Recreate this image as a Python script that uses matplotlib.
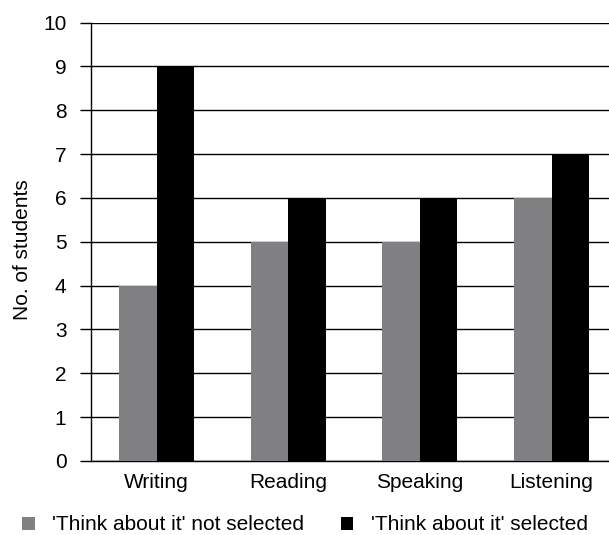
import matplotlib
matplotlib.use("Agg")
import matplotlib.pyplot as plt
from matplotlib.patches import Patch
import numpy as np

categories = ["Writing", "Reading", "Speaking", "Listening"]
not_selected = [4, 5, 5, 6]
selected = [9, 6, 6, 7]
series_names = ["'Think about it' not selected", "'Think about it' selected"]
yticks = list(range(0, 11))

plt.rcParams['font.family'] = ['Liberation Sans', 'DejaVu Sans']
FS = 15

fig = plt.figure(figsize=(6.09, 5.35), dpi=100)
ax = fig.add_axes([90.7/609, 74/535, 526.8/609, 438.5/535])

x = np.arange(len(categories))
w = 0.285
ax.bar(x - w/2, not_selected, w, color='#808083', zorder=3)
ax.bar(x + w/2, selected, w, color='#000000', zorder=3)

ax.set_xlim(-0.5, 3.5)
ax.set_ylim(0, 10)
ax.set_yticks(yticks)
ax.set_xticks(x)
ax.set_xticklabels(categories, fontsize=FS)
ax.tick_params(axis='y', length=8, width=1, pad=9.5, labelsize=FS, color='#000000')
ax.tick_params(axis='x', length=0, pad=9, labelsize=FS)
ax.yaxis.grid(True, color='#000000', linewidth=1, zorder=0)
ax.set_axisbelow(True)
for s in ['top', 'right']:
    ax.spines[s].set_visible(False)
ax.spines['left'].set_linewidth(1)
ax.spines['bottom'].set_linewidth(1)
ax.set_ylabel("No. of students", fontsize=FS)
ax.yaxis.set_label_coords(-0.111, 0.483)

handles = [Patch(facecolor='#808083', edgecolor='none'), Patch(facecolor='#000000', edgecolor='none')]
fig.legend(handles, series_names, loc='center left', bbox_to_anchor=(22/609, 1 - 525/535),
           ncol=2, frameon=False, fontsize=FS, handlelength=0.6, handleheight=0.6,
           handletextpad=0.85, columnspacing=1.75, borderpad=0, borderaxespad=0)

fig.savefig("out.png", dpi=100)
